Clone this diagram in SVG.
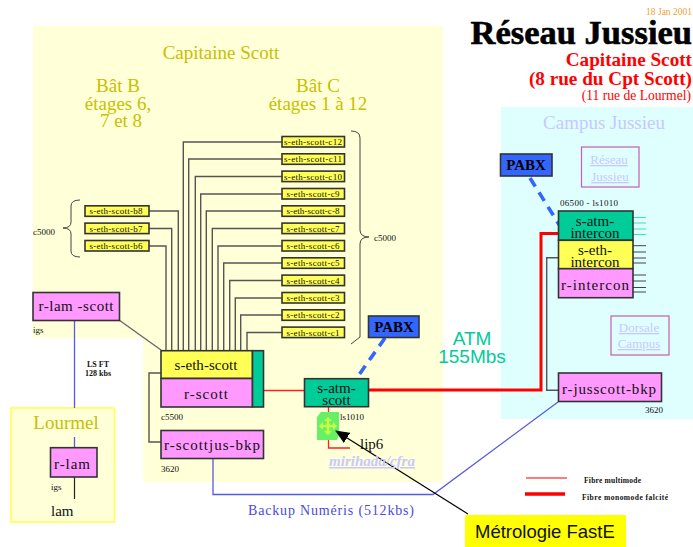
<svg xmlns="http://www.w3.org/2000/svg" width="693" height="547" viewBox="0 0 693 547">
<style>
text{font-family:"Liberation Serif","Times New Roman",serif;fill:#111}
.s{font-size:9px}
.sw{font-size:9px;text-anchor:middle}
.n{font-size:15px;text-anchor:middle}
.o{font-size:19px;text-anchor:middle;fill:#c8c000}
.box{stroke:#333;stroke-width:1.6}
.y{fill:#ffff55}.p{fill:#ff99ff}.g{fill:#00cc99}
.ln{fill:none;stroke:#666;stroke-width:1.3}
.tap{fill:none;stroke:#555;stroke-width:1.4}
.blue{fill:none;stroke:#5a5ae0;stroke-width:1.3}
.red{fill:none;stroke:#ff2020;stroke-width:1.3}
.big{fill:none;stroke:#ff0000;stroke-width:3}
.dash{fill:none;stroke:#3366ff;stroke-width:3.6;stroke-dasharray:10 7}
.lk{font-size:13px;text-anchor:middle;fill:#c8c8ff;text-decoration:underline}
.fr{fill:none;stroke:#c85cb0;stroke-width:1.2}
.brace{fill:none;stroke:#444;stroke-width:1}
.px{font-size:15px;font-weight:bold;fill:#000;text-anchor:middle}
</style>
<defs>
<marker id="ah" markerWidth="14" markerHeight="12" refX="13" refY="6" orient="auto" markerUnits="userSpaceOnUse"><path d="M0 0L14 6L0 12Z" fill="#000"/></marker>
</defs>
<g id="zones">
<path d="M33 26H443V482H143V338H33Z" fill="#ffffd8"/>
<rect x="11" y="408" width="103.500" height="114" fill="#ffffd8" stroke="#ffff55" stroke-width="1.600"/>
<rect x="501" y="107" width="192" height="312" fill="#dfffff"/>
</g>
<g id="titles">
<text x="692" y="15" text-anchor="end" style="font-size:9.500px;fill:#f0a030">18 Jan 2001</text>
<text x="692" y="44" text-anchor="end" style="font-size:34.500px;font-weight:bold;fill:#000;stroke:#000;stroke-width:.6">Réseau Jussieu</text>
<text x="692" y="66" text-anchor="end" style="font-size:19.200px;font-weight:bold;fill:#ff0000">Capitaine Scott</text>
<text x="692" y="85" text-anchor="end" style="font-size:19.200px;font-weight:bold;fill:#ff0000">(8 rue du Cpt Scott)</text>
<text x="691" y="100" text-anchor="end" style="font-size:13.600px;fill:#ff0000">(11 rue de Lourmel)</text>
<text x="221" y="59" class="o">Capitaine Scott</text>
<text x="118" y="92" class="o">Bât B</text>
<text x="118" y="110" class="o">étages 6,</text>
<text x="121" y="127" class="o">7 et 8</text>
<text x="318" y="92" class="o">Bât C</text>
<text x="318" y="110" class="o">étages 1 à 12</text>
<text x="604" y="129" text-anchor="middle" style="font-size:19px;fill:#c8c8ff">Campus Jussieu</text>
<text x="66" y="429" class="o" style="font-size:19px">Lourmel</text>
</g>
<g id="lip6"><path d="M317 417L321 412H339V435L337 440H317Z" fill="#66f066"/><path d="M322 426H334M328 420V432" stroke="#ccff44" stroke-width="2.500"/><path d="M319 426L323 422V430ZM337 426L333 422V430ZM328 417L324 421H332ZM328 435L324 431H332Z" fill="#ccff44"/><text x="360" y="449" style="font-size:15px">lip6</text></g>
<g id="connectors">
<path class="ln" d="M119 320L161 350"/>
<path class="tap" d="M282 142H183.300V351M282 159H188.700V351M282 176.500H195.300V351M282 194H200.700V351M282 211H206.300V351M282 228.500H212.300V351M282 246H218V351M282 263H223.700V351M282 280.500H229.700V351M282 298H235.300V351M282 315H240.700V351M282 332.500H247V351"/>
<path class="tap" d="M149 211H178.300V351M149 228.500H171.700V351M149 246H166V351"/>
<path class="tap" d="M161 373H149V442H161"/>
<path class="tap" d="M558 257.700H546.700V390.300H558"/>
<path class="blue" d="M74.500 320V408M74.500 437V448"/>
<path d="M74.500 477V499" fill="none" stroke="#222" stroke-width="1.200"/>
<path class="blue" d="M213 458V494.500H433L558 402"/>
<path class="red" d="M263 390.500H305"/>
<path class="big" d="M368 390H541V233.500H559"/>
<path class="red" d="M328.500 407V412M328.500 440V448H350"/>
<path class="dash" d="M385 338L356 379"/>
<path class="dash" d="M530 178L560 226"/>
<path d="M633 217.500H646M633 223H646M633 229H646M633 234.500H646" fill="none" stroke="#40e0c0" stroke-width="1"/>
<path d="M633 245.700H646M633 252H646M633 258H646M633 263H646M633 275H646M633 281H646M633 287.500H646M633 292H646" fill="none" stroke="#444" stroke-width="1"/>
<path d="M468 514L336 431" fill="none" stroke="#000" stroke-width="1.200" marker-end="url(#ah)"/>
</g>
<g id="braces">
<path class="brace" d="M80 200Q71 200 71 206V222Q71 228 63 228Q71 228 71 234V251Q71 257 80 257"/>
<path class="brace" d="M351 131Q360 131 360 138V230Q360 237 369 237Q360 237 360 244V337L351 344"/>
<text x="33" y="235" class="s">c5000</text>
<text x="374" y="241" class="s">c5000</text>
</g>
<g id="s-eth-scott-c12"><rect class="box y" x="282" y="136.500" width="62.500" height="10.500"/><text class="sw" x="313" y="145" textLength="58">s-eth-scott-c12</text></g>
<g id="s-eth-scott-c11"><rect class="box y" x="282" y="153.800" width="62.500" height="10.500"/><text class="sw" x="313" y="162.300" textLength="58">s-eth-scott-c11</text></g>
<g id="s-eth-scott-c10"><rect class="box y" x="282" y="171.100" width="62.500" height="10.500"/><text class="sw" x="313" y="179.700" textLength="58">s-eth-scott-c10</text></g>
<g id="s-eth-scott-c9"><rect class="box y" x="282" y="188.500" width="62.500" height="10.500"/><text class="sw" x="313" y="197" textLength="53">s-eth-scott-c9</text></g>
<g id="s-eth-scott-c8"><rect class="box y" x="282" y="205.800" width="62.500" height="10.500"/><text class="sw" x="313" y="214.300" textLength="53">s-eth-scott-c-8</text></g>
<g id="s-eth-scott-c7"><rect class="box y" x="282" y="223.100" width="62.500" height="10.500"/><text class="sw" x="313" y="231.700" textLength="53">s-eth-scott-c7</text></g>
<g id="s-eth-scott-c6"><rect class="box y" x="282" y="240.500" width="62.500" height="10.500"/><text class="sw" x="313" y="249" textLength="53">s-eth-scott-c6</text></g>
<g id="s-eth-scott-c5"><rect class="box y" x="282" y="257.800" width="62.500" height="10.500"/><text class="sw" x="313" y="266.300" textLength="53">s-eth-scott-c5</text></g>
<g id="s-eth-scott-c4"><rect class="box y" x="282" y="275.100" width="62.500" height="10.500"/><text class="sw" x="313" y="283.700" textLength="53">s-eth-scott-c4</text></g>
<g id="s-eth-scott-c3"><rect class="box y" x="282" y="292.500" width="62.500" height="10.500"/><text class="sw" x="313" y="301" textLength="53">s-eth-scott-c3</text></g>
<g id="s-eth-scott-c2"><rect class="box y" x="282" y="309.800" width="62.500" height="10.500"/><text class="sw" x="313" y="318.300" textLength="53">s-eth-scott-c2</text></g>
<g id="s-eth-scott-c1"><rect class="box y" x="282" y="327.100" width="62.500" height="10.500"/><text class="sw" x="313" y="335.700" textLength="53">s-eth-scott-c1</text></g>
<g id="s-eth-scott-b8"><rect class="box y" x="85" y="205.800" width="64" height="10.500"/><text class="sw" x="116" y="214.300" textLength="53">s-eth-scott-b8</text></g>
<g id="s-eth-scott-b7"><rect class="box y" x="85" y="223.100" width="64" height="10.500"/><text class="sw" x="116" y="231.700" textLength="53">s-eth-scott-b7</text></g>
<g id="s-eth-scott-b6"><rect class="box y" x="85" y="240.500" width="64" height="10.500"/><text class="sw" x="116" y="249" textLength="53">s-eth-scott-b6</text></g>
<g id="r-lam-scott"><rect class="box p" x="33" y="292.500" width="86.500" height="28"/><text class="n" x="76" y="311" textLength="75">r-lam -scott</text><text class="s" x="33" y="333">igs</text></g>
<g id="s-eth-scott"><rect class="box y" x="161" y="350.700" width="91.500" height="27.800"/><text class="n" x="206" y="370" textLength="63">s-eth-scott</text></g>
<g id="r-scott"><rect class="box p" x="161" y="378.500" width="91.500" height="28.500"/><text class="n" x="206" y="399" textLength="44">r-scott</text><text class="s" x="161" y="420">c5500</text></g>
<g id="scott-side"><rect class="box g" x="252.500" y="350.700" width="11" height="56.300"/></g>
<g id="r-scottjus-bkp"><rect class="box p" x="161" y="430.500" width="102.500" height="28"/><text class="n" x="212" y="450" textLength="96">r-scottjus-bkp</text><text class="s" x="161" y="472">3620</text></g>
<g id="s-atm-scott"><rect class="box g" x="304.500" y="378.700" width="64" height="28"/><text class="n"><tspan x="336.500" y="393">s-atm-</tspan><tspan x="336.500" y="405">scott</tspan></text><text class="s" x="340" y="420">ls1010</text></g>
<g id="PABX-scott"><rect x="368.500" y="316" width="50.500" height="21.500" fill="#3366ff" stroke="#333" stroke-width="1.600"/><text x="394" y="332" class="px">PABX</text></g>
<g id="PABX-jussieu"><rect x="500.500" y="154" width="51.500" height="22" fill="#3366ff" stroke="#333" stroke-width="1.600"/><text x="526" y="170" class="px">PABX</text></g>
<g id="r-lam"><rect class="box p" x="50.500" y="447.700" width="46.500" height="29.300"/><text class="n" x="72" y="469" textLength="36">r-lam</text><text class="s" x="51" y="490">igs</text><text x="51" y="516" style="font-size:15px">lam</text></g>
<g id="s-atm-intercon"><rect class="box g" x="558.500" y="211" width="74.500" height="29.300"/><text class="n"><tspan x="595" y="226">s-atm-</tspan><tspan x="595" y="238">intercon</tspan></text><text class="s" x="560" y="206" textLength="58">06500 - ls1010</text></g>
<g id="s-eth-intercon"><rect class="box y" x="558.500" y="240.300" width="74.500" height="28.400"/><text class="n"><tspan x="595" y="255">s-eth-</tspan><tspan x="595" y="267">intercon</tspan></text></g>
<g id="r-intercon"><rect class="box p" x="558.500" y="268.700" width="74.500" height="29"/><text class="n" x="595" y="290" textLength="68">r-intercon</text></g>
<g id="r-jusscott-bkp"><rect class="box p" x="558.500" y="373" width="103" height="28.500"/><text class="n" x="609" y="394" textLength="94">r-jusscott-bkp</text><text class="s" x="645" y="413">3620</text></g>
<g id="reseau-jussieu"><rect class="fr" x="581.500" y="147" width="57.500" height="40"/><text class="lk" x="609" y="164">Réseau</text><text class="lk" x="610" y="181">Jussieu</text></g>
<g id="dorsale-campus"><rect class="fr" x="611" y="316" width="58" height="39"/><text class="lk" x="639" y="332">Dorsale</text><text class="lk" x="639" y="348">Campus</text></g>
<g id="labels">
<text x="472" y="345" text-anchor="middle" style="font-family:'Liberation Sans',sans-serif;font-size:19px;fill:#00cc99">ATM</text>
<text x="472" y="363" text-anchor="middle" style="font-family:'Liberation Sans',sans-serif;font-size:19px;fill:#00cc99">155Mbs</text>
<text x="372" y="466" text-anchor="middle" style="font-size:15px;font-weight:bold;font-style:italic;fill:#c8c8ff;text-decoration:underline">mirihada/cfra</text>
<text x="98" y="367" text-anchor="middle" style="font-size:8px;font-weight:bold">LS FT</text>
<text x="98" y="376" text-anchor="middle" style="font-size:8px;font-weight:bold">128 kbs</text>
<text x="331" y="515" text-anchor="middle" style="font-size:14px;fill:#4a4ae0" textLength="166">Backup Numéris  (512kbs)</text>
</g>
<g id="legend">
<path d="M526 478H567" stroke="#ff5050" stroke-width="1.300" fill="none"/>
<path d="M525 494H565" stroke="#ff0000" stroke-width="3.500" fill="none"/>
<text x="584" y="483" style="font-size:7.500px;font-weight:bold" textLength="57">Fibre multimode</text>
<text x="582" y="500" style="font-size:7.500px;font-weight:bold" textLength="86">Fibre monomode  falcité</text>
</g>
<g id="metrologie"><rect x="465" y="515" width="161" height="32" fill="#ffff00"/><text x="475" y="538" style="font-family:'Liberation Sans',sans-serif;font-size:18.500px;fill:#111">Métrologie FastE</text></g>
</svg>
